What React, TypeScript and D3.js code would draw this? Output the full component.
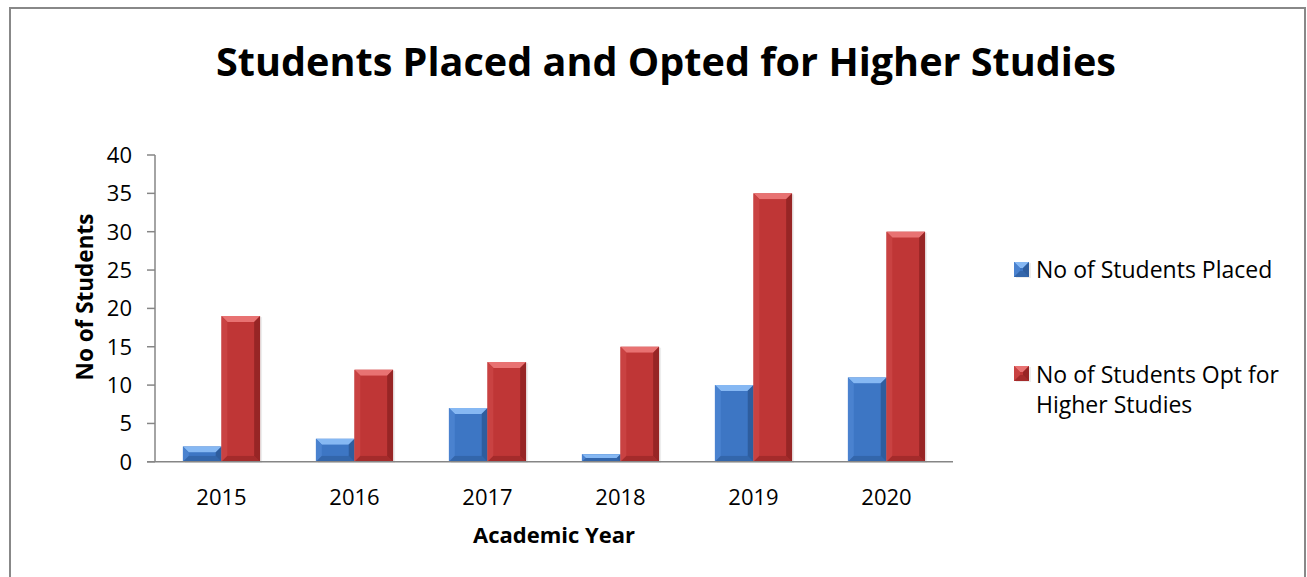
import React from "react";
import * as d3 from "d3";

const years = ["2015", "2016", "2017", "2018", "2019", "2020"];
const placed = [2, 3, 7, 1, 10, 11];
const higher = [19, 12, 13, 15, 35, 30];
const seriesNames = ["No of Students Placed", "No of Students Opt for Higher Studies"];
const yTicks = [0, 5, 10, 15, 20, 25, 30, 35, 40];

const W = 1307;
const H = 577;
const FONT = "'Open Sans', Lato, sans-serif";

const colors = [
  { base: "#3d76c4", light: "#6ea3ea", lighter: "#86b8f3", dark: "#2a5592", side: "#4a82cf" },
  { base: "#bf3636", light: "#e06161", lighter: "#e87272", dark: "#8a2020", side: "#c94242" },
];

function Bar({ x, y, w, h, c }: { x: number; y: number; w: number; h: number; c: typeof colors[0] }) {
  const b = Math.min(6, h / 2);
  return (
    <g>
      <rect x={x + 2} y={y + 1} width={w} height={h} fill="#000" opacity={0.07} />
      <rect x={x} y={y} width={w} height={h} fill={c.base} />
      <polygon points={`${x},${y} ${x + w},${y} ${x + w - b},${y + b} ${x + b},${y + b}`} fill={c.lighter} />
      <polygon points={`${x},${y} ${x + b},${y + b} ${x + b},${y + h - b} ${x},${y + h}`} fill={c.side} />
      <polygon points={`${x + w},${y} ${x + w},${y + h} ${x + w - b},${y + h - b} ${x + w - b},${y + b}`} fill={c.dark} opacity={0.75} />
      <polygon points={`${x},${y + h} ${x + w},${y + h} ${x + w - b},${y + h - b} ${x + b},${y + h - b}`} fill={c.dark} opacity={0.5} />
      <rect x={x + b} y={y + b} width={Math.max(0, w - 2 * b)} height={Math.max(0, h - 2 * b)} fill={c.base} />
    </g>
  );
}

export default function App() {
  const left = 155;
  const right = 953;
  const y = d3.scaleLinear().domain([0, 40]).range([461.8, 155]);
  const x0 = d3.scaleBand<string>().domain(years).range([left, right]).paddingInner(0.42).paddingOuter(0.21);
  const x1 = d3.scaleBand<number>().domain([0, 1]).range([0, x0.bandwidth()]);
  const data = [placed, higher];

  return (
    <svg width={W} height={H} style={{ position: "absolute", left: 0, top: 0, background: "#fff" }}>
      <rect x={10} y={8} width={1295} height={600} fill="#fff" stroke="#888" strokeWidth={2} />
      <text x={666} y={76} textAnchor="middle" fontFamily={FONT} fontWeight="bold" fontSize={40} textLength={900} lengthAdjust="spacingAndGlyphs" fill="#000">
        Students Placed and Opted for Higher Studies
      </text>

      {/* y axis */}
      <line x1={left} x2={left} y1={y(40)} y2={y(0)} stroke="#868686" strokeWidth={1.5} />
      {yTicks.map((t) => (
        <g key={t}>
          <line x1={147} x2={left} y1={y(t)} y2={y(t)} stroke="#868686" strokeWidth={1.5} />
          <text x={132} y={y(t) + 8} textAnchor="end" fontFamily={FONT} fontSize={22} fill="#000">
            {t}
          </text>
        </g>
      ))}

      {/* bars */}
      {years.map((yr, i) =>
        data.map((s, si) => {
          const bx = (x0(yr) as number) + (x1(si) as number);
          const top = y(s[i]);
          return <Bar key={yr + si} x={bx} y={top} w={x1.bandwidth()} h={y(0) - top} c={colors[si]} />;
        })
      )}

      {/* x axis */}
      <line x1={147} x2={right} y1={y(0)} y2={y(0)} stroke="#868686" strokeWidth={1.5} />
      {years.map((yr) => (
        <text key={yr} x={(x0(yr) as number) + x0.bandwidth() / 2} y={505} textAnchor="middle" fontFamily={FONT} fontSize={22} fill="#000">
          {yr}
        </text>
      ))}
      <text x={554} y={543} textAnchor="middle" fontFamily={FONT} fontWeight="bold" fontSize={22} fill="#000">
        Academic Year
      </text>
      <text transform={`translate(93,297) rotate(-90)`} textAnchor="middle" fontFamily={FONT} fontWeight="bold" fontSize={22.5} fill="#000">
        No of Students
      </text>

      {/* legend */}
      <g>
        <Bar x={1014} y={262} w={15} h={15} c={colors[0]} />
        <text x={1036} y={278} fontFamily={FONT} fontSize={23} fill="#000">
          {seriesNames[0]}
        </text>
        <Bar x={1014} y={366} w={15} h={15} c={colors[1]} />
        <text x={1036} y={383} fontFamily={FONT} fontSize={23} fill="#000">
          No of Students Opt for
        </text>
        <text x={1036} y={413} fontFamily={FONT} fontSize={23} fill="#000">
          Higher Studies
        </text>
      </g>
    </svg>
  );
}
